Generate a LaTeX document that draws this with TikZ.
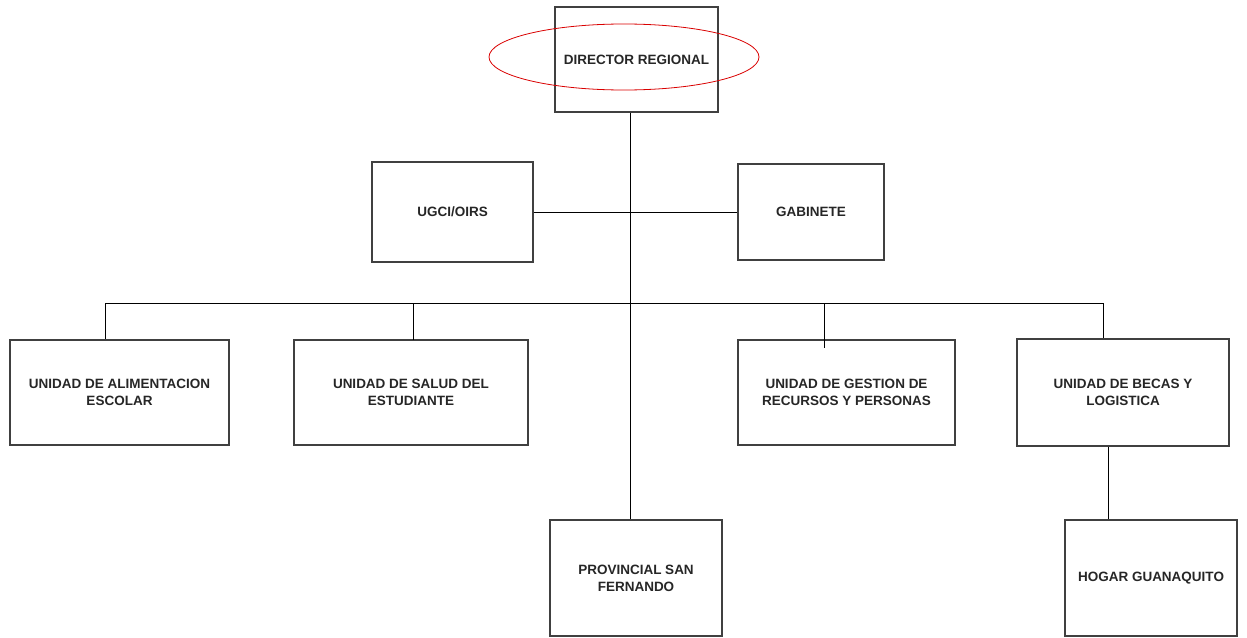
\documentclass[tikz,border=0pt]{standalone}
\usepackage{fontspec}
\setmainfont{Liberation Sans}
\usetikzlibrary{shapes.geometric}
\begin{document}
\begin{tikzpicture}[x=1pt,y=-1pt,
  unitbox/.style={draw=black!75,line width=1.3pt,inner sep=0pt,align=center,
    font=\fontsize{13.5}{17}\selectfont\bfseries,text=black!85},
  conn/.style={draw=black,line width=1pt}]
\useasboundingbox (0,0) rectangle (1247,637);
\node[unitbox,minimum width=163,minimum height=105] (dir) at (636.5,59.5) {DIRECTOR REGIONAL};
\node[draw=red!85!black,line width=0.8pt,ellipse,minimum width=270,minimum height=66,inner sep=0pt] (ell) at (624,57) {};
\node[unitbox,minimum width=161,minimum height=100] (ugci) at (452.5,212) {UGCI/OIRS};
\node[unitbox,minimum width=146,minimum height=96] (gab) at (811,212) {GABINETE};
\node[unitbox,minimum width=219,minimum height=105] (alim) at (119.5,392.5) {UNIDAD DE ALIMENTACION\\ESCOLAR};
\node[unitbox,minimum width=234,minimum height=105] (salud) at (411,392.5) {UNIDAD DE SALUD DEL\\ESTUDIANTE};
\node[unitbox,minimum width=217,minimum height=105] (gest) at (846.5,392.5) {UNIDAD DE GESTION DE\\RECURSOS Y PERSONAS};
\node[unitbox,minimum width=212,minimum height=107] (becas) at (1123,392.5) {UNIDAD DE BECAS Y\\LOGISTICA};
\node[unitbox,minimum width=172,minimum height=116] (prov) at (636,578) {PROVINCIAL SAN\\FERNANDO};
\node[unitbox,minimum width=172,minimum height=116] (hogar) at (1151,578) {HOGAR GUANAQUITO};
\coordinate (busL) at (105,303);
\coordinate (busR) at (1103,303);
% main trunk
\draw[conn] (dir.south -| 630,0) -- (prov.north -| 630,0);
% staff line
\draw[conn] (ugci.east) -- (gab.west);
% bus
\draw[conn] (busL) -- (busR);
\draw[conn] (busL) -- (busL |- alim.north);
\draw[conn] (413,303) -- (413,340);
\draw[conn] (824,303) -- (824,348);
\draw[conn] (busR) -- (busR |- becas.north);
\draw[conn] (becas.south -| 1108,0) -- (hogar.north -| 1108,0);
\end{tikzpicture}
\end{document}
